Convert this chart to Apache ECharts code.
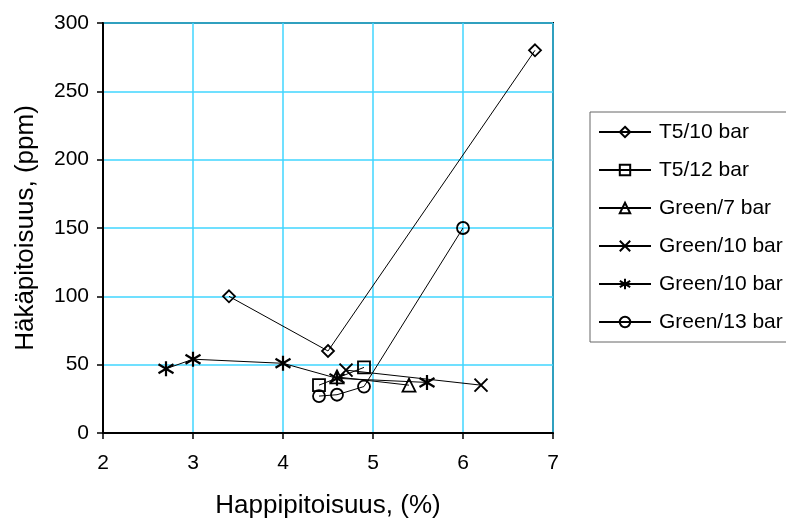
<!DOCTYPE html>
<html>
<head>
<meta charset="utf-8">
<script src="https://cdn.jsdelivr.net/npm/echarts@6/dist/echarts.min.js"></script>
<style>
html,body{margin:0;padding:0;background:#fff;}
#c{width:786px;height:520px;}
</style>
</head>
<body>
<div id="c"></div>
<script>
const seriesNames = ['T5/10 bar', 'T5/12 bar', 'Green/7 bar', 'Green/10 bar', 'Green/10 bar ', 'Green/13 bar'];
const t5_10 = [[3.4, 100], [4.5, 60], [6.8, 280]];
const t5_12 = [[4.4, 35], [4.9, 48]];
const green7 = [[4.6, 41], [5.4, 35]];
const green10x = [[4.7, 46], [6.2, 35]];
const green10star = [[2.7, 47], [3.0, 54], [4.0, 51], [4.6, 40], [5.6, 37]];
const green13 = [[4.4, 27], [4.6, 28], [4.9, 34], [6.0, 150]];
const xTicks = [2, 3, 4, 5, 6, 7];
const yTicks = [0, 50, 100, 150, 200, 250, 300];

const symX = 'path://M0,0 L10,10 M10,0 L0,10';
const symStar = 'path://M5,0 L5,10 M0,2 L10,8 M0,8 L10,2';

const font = '"Liberation Sans", Arial, sans-serif';
function mk(name, data, symbol, size, bw) {
  return {
    name: name, type: 'line', data: data,
    symbol: symbol, symbolSize: size, showSymbol: true,
    lineStyle: {color: '#000', width: 1},
    itemStyle: {color: 'rgba(0,0,0,0)', borderColor: '#000', borderWidth: bw || 1.8},
    emphasis: {disabled: true},
    animation: false, z: 3
  };
}

const chart = echarts.init(document.getElementById('c'));
chart.setOption({
  animation: false,
  backgroundColor: '#fff',
  grid: {left: 103, right: 233, top: 23, bottom: 87, show: true, borderColor: '#000', borderWidth: 2, backgroundColor: 'transparent', outerBoundsMode: 'none', containLabel: false},
  xAxis: {
    type: 'value', min: xTicks[0], max: xTicks[xTicks.length - 1], interval: 1,
    name: 'Happipitoisuus, (%)', nameLocation: 'middle', nameGap: 60,
    nameTextStyle: {fontFamily: font, fontSize: 26, color: '#000'},
    axisLine: {show: true, onZero: false, lineStyle: {color: '#000', width: 2}},
    axisTick: {show: true, inside: false, length: 6, lineStyle: {color: '#000', width: 1.5}},
    axisLabel: {fontFamily: font, fontSize: 21, color: '#000', margin: 20},
    splitLine: {show: true, lineStyle: {color: '#40D6FF', width: 1.5}}
  },
  yAxis: {
    type: 'value', min: yTicks[0], max: yTicks[yTicks.length - 1], interval: 50,
    name: 'Häkäpitoisuus, (ppm)', nameLocation: 'middle', nameGap: 64,
    nameTextStyle: {fontFamily: font, fontSize: 26, color: '#000'},
    axisLine: {show: true, onZero: false, lineStyle: {color: '#000', width: 2}},
    axisTick: {show: true, inside: false, length: 6, lineStyle: {color: '#000', width: 1.5}},
    axisLabel: {fontFamily: font, fontSize: 21, color: '#000', margin: 14},
    splitLine: {show: true, lineStyle: {color: '#40D6FF', width: 1.5}}
  },
  legend: {
    orient: 'vertical', left: 590, top: 112,
    padding: [8, 14, 8, 8],
    itemWidth: 52, itemHeight: 13, itemGap: 14,
    backgroundColor: '#fff', borderColor: '#666', borderWidth: 1,
    textStyle: {fontFamily: font, fontSize: 21, color: '#000', lineHeight: 24, padding: [0, 0, 0, 3]},
    data: seriesNames,
    selectedMode: false
  },
  series: [
    mk(seriesNames[0], t5_10, 'diamond', 12),
    mk(seriesNames[1], t5_12, 'rect', 12),
    mk(seriesNames[2], green7, 'triangle', 13),
    mk(seriesNames[3], green10x, symX, 13, 2),
    mk(seriesNames[4], green10star, symStar, 15, 2.2),
    mk(seriesNames[5], green13, 'circle', 12)
  ]
});
</script>
</body>
</html>
